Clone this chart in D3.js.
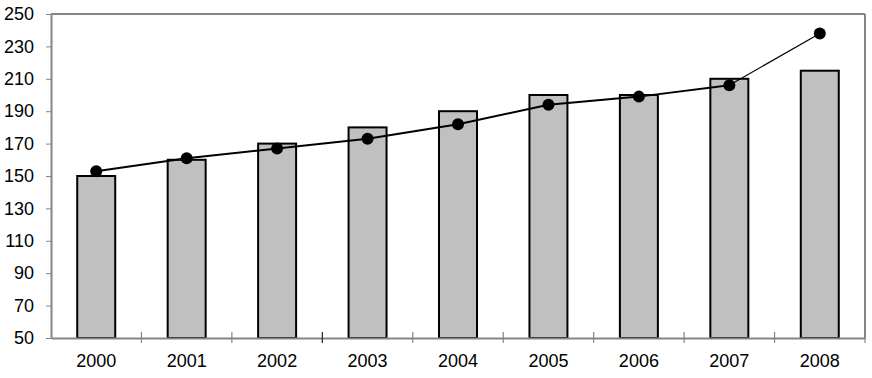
<!DOCTYPE html>
<html>
<head>
<meta charset="utf-8">
<script src="https://cdn.jsdelivr.net/npm/d3@7"></script>
<style>
  body { margin: 0; background: #fff; }
  svg text { font-family: "Liberation Sans", Arial, sans-serif; font-size: 18px; fill: #000; }
</style>
</head>
<body>
<svg id="chart" width="872" height="378"></svg>
<script>
const years = ["2000", "2001", "2002", "2003", "2004", "2005", "2006", "2007", "2008"];
const barValues = [150, 160, 170, 180, 190, 200, 200, 210, 215];
const lineValues = [153, 161, 167, 173, 182, 194, 199, 206, 238];
const yTicks = [50, 70, 90, 110, 130, 150, 170, 190, 210, 230, 250];

const svg = d3.select("#chart");
const margin = { top: 14, right: 7, bottom: 40, left: 51 };
const width = 872 - margin.left - margin.right;
const height = 378 - margin.top - margin.bottom;

const g = svg.append("g").attr("transform", `translate(${margin.left},${margin.top})`);

const x = d3.scaleBand().domain(years).range([0, width]).paddingInner(0.58).paddingOuter(0.29);
const xStep = d3.scaleBand().domain(years).range([0, width]).padding(0);
const y = d3.scaleLinear().domain([50, 250]).range([height, 0]);

// frame (top and right)
g.append("line").attr("x1", 0).attr("x2", width).attr("y1", 0).attr("y2", 0)
  .attr("stroke", "#858585").attr("stroke-width", 2);
g.append("line").attr("x1", width).attr("x2", width).attr("y1", 0).attr("y2", height)
  .attr("stroke", "#858585").attr("stroke-width", 2);

// bars
g.selectAll("rect.bar")
  .data(years)
  .enter()
  .append("rect")
  .attr("class", "bar")
  .attr("x", d => x(d))
  .attr("y", (d, i) => y(barValues[i]))
  .attr("width", x.bandwidth())
  .attr("height", (d, i) => height - y(barValues[i]))
  .attr("fill", "#c0c0c0")
  .attr("stroke", "#000")
  .attr("stroke-width", 2);

// y axis
const yAxis = g.append("g")
  .call(d3.axisLeft(y).tickValues(yTicks).tickSize(5).tickSizeOuter(0).tickPadding(12));
yAxis.select(".domain").attr("stroke", "#858585").attr("stroke-width", 2);
yAxis.selectAll(".tick line").attr("stroke", "#858585");
yAxis.selectAll("text").style("font-size", "18px");

// x axis (labels)
const xAxis = g.append("g")
  .attr("transform", `translate(0,${height})`)
  .call(d3.axisBottom(x).tickSize(0).tickPadding(16));
xAxis.select(".domain").attr("stroke", "#858585").attr("stroke-width", 2);
xAxis.selectAll("text").style("font-size", "18px");

// x tick marks between categories
g.selectAll("line.xtick")
  .data(years)
  .enter()
  .append("line")
  .attr("class", "xtick")
  .attr("x1", d => xStep(d) + xStep.step())
  .attr("x2", d => xStep(d) + xStep.step())
  .attr("y1", height - 6)
  .attr("y2", height + 5)
  .attr("stroke", (d, i) => i === 2 ? "#222" : "#858585")
  .attr("stroke-width", 1.2);

// line series
const cx = d => x(d) + x.bandwidth() / 2;
const pts = years.map((d, i) => [cx(d), y(lineValues[i])]);
for (let i = 0; i < pts.length - 1; i++) {
  g.append("line")
    .attr("x1", pts[i][0]).attr("y1", pts[i][1])
    .attr("x2", pts[i + 1][0]).attr("y2", pts[i + 1][1])
    .attr("stroke", "#000")
    .attr("stroke-width", i === pts.length - 2 ? 1.2 : 2);
}

g.selectAll("circle.pt")
  .data(years)
  .enter()
  .append("circle")
  .attr("class", "pt")
  .attr("cx", d => cx(d))
  .attr("cy", (d, i) => y(lineValues[i]))
  .attr("r", 6)
  .attr("fill", "#000");
</script>
</body>
</html>
